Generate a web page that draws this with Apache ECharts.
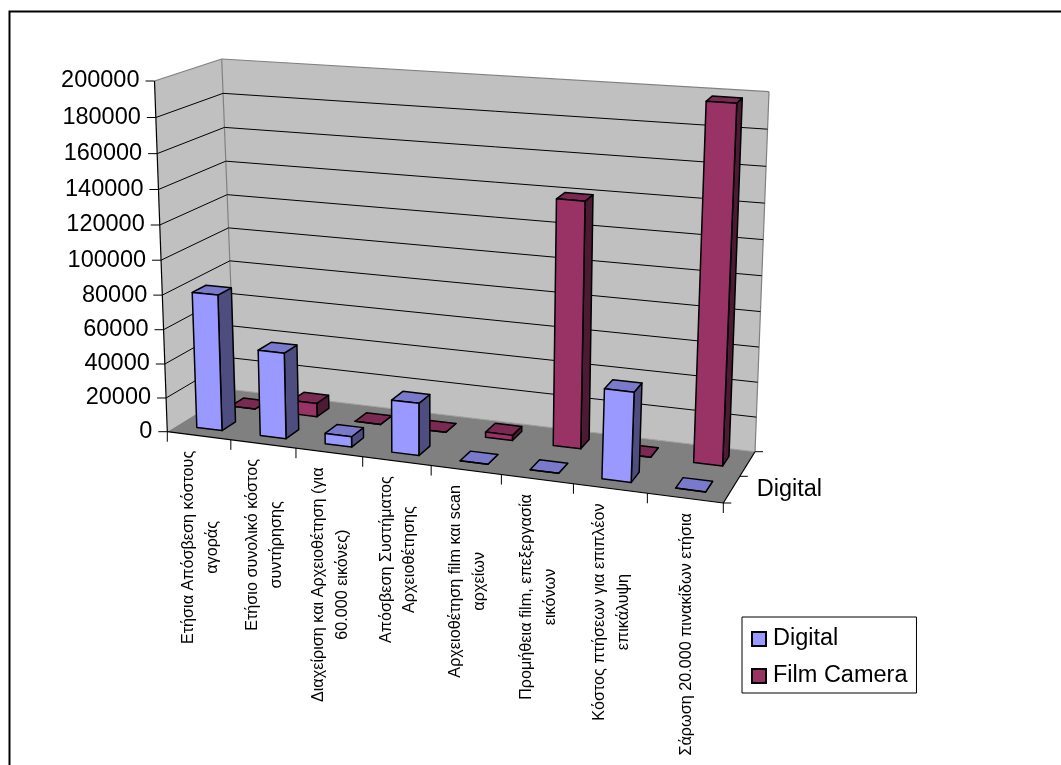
<!DOCTYPE html>
<html><head><meta charset="utf-8">
<style>html,body{margin:0;padding:0;background:#fff}#c{width:1061px;height:765px}</style>
<script src="https://cdn.jsdelivr.net/npm/echarts@6/dist/echarts.min.js"></script>
</head><body><div id="c"></div>
<script>
const categories = [
  'Ετήσια Απόσβεση κόστους\nαγοράς',
  'Ετήσιο συνολικό κόστος\nσυντήρησης',
  'Διαχείριση και Αρχειοθέτηση (για\n60.000 εικόνες)',
  'Απόσβεση Συστήματος\nΑρχειοθέτησης',
  'Αρχειοθέτηση film και scan\nαρχείων',
  'Προμήθεια film, επεξεργασία\nεικόνων',
  'Κόστος πτήσεων για επιπλέον\nεπικάλυψη',
  'Σάρωση 20.000 πινακίδων ετήσια'
];
const digital = [79500, 50000, 6000, 30000, 0, 0, 50000, 0];
const filmCamera = [0, 8000, 0, 0, 3000, 140000, 0, 198000];
const valueTicks = [0, 20000, 40000, 60000, 80000, 100000, 120000, 140000, 160000, 180000, 200000];
const seriesNames = ['Digital', 'Film Camera'];
const depthLabels = ['Digital'];

const FONT = '"Liberation Sans", Arial, sans-serif';
// Camera of the 3D box: where its corners land on the page.
const floorQuad = [[167.3,431.7],[723.3,503],[755,451.7],[235,390]]; // FL FR BR BL
const roofCorners = {FL:[154.5,81],BL:[221.7,59],BR:[769,91.7]};

const camera=(function(){
  const [p0,p1,p2,p3]=floorQuad;
  const dx1=p1[0]-p2[0], dx2=p3[0]-p2[0], sx=p0[0]-p1[0]+p2[0]-p3[0];
  const dy1=p1[1]-p2[1], dy2=p3[1]-p2[1], sy=p0[1]-p1[1]+p2[1]-p3[1];
  const den=dx1*dy2-dx2*dy1;
  const g=(sx*dy2-dx2*sy)/den, h=(dx1*sy-sx*dy1)/den;
  const F=[[p1[0]*(1+g)-p0[0],p3[0]*(1+h)-p0[0],p0[0]],[p1[1]*(1+g)-p0[1],p3[1]*(1+h)-p0[1],p0[1]]];
  const R0=roofCorners.FL,R1=roofCorners.BL,R2=roofCorners.BR;
  const m=(F[0][0]+F[0][1]+R0[0]-R2[0]*(1+g+h))/(R2[0]-R0[0]);
  const T=[0,1].map(k=>{
    const C=R0[k]*(1+m), B=R1[k]*(1+h+m)-C, A=R2[k]*(1+g+h+m)-C-B;
    return [A,B,C];
  });
  return {g,h,m,F,T};
})();
function proj(u,v,w){
  const {g,h,m,F,T}=camera, k=g*u+h*w+1+m*v;
  return [0,1].map(i=>{
    const n0=F[i][0]*u+F[i][1]*w+F[i][2], n1=T[i][0]*u+T[i][1]*w+T[i][2];
    return (n0+(n1-n0)*v)/k;
  });
}
// Turn a position on the flat ECharts grid into normalised box coordinates.
function norm(pt,cs){ return [(pt[0]-cs.x)/cs.width, (cs.y+cs.height-pt[1])/cs.height]; }

const poly=(points,fill,stroke,lw)=>({type:'polygon',shape:{points},
  style:{fill:fill||'none',stroke:stroke||'none',lineWidth:lw||0,lineJoin:'round'},silent:true});
const line=(a,b,stroke,lw)=>({type:'line',shape:{x1:a[0],y1:a[1],x2:b[0],y2:b[1]},
  style:{stroke,lineWidth:lw||1},silent:true});

const measureCtx=document.createElement('canvas').getContext('2d');

function frameItem(params,api){
  const cs=params.coordSys, kids=[];
  const WALL='#C0C0C0', FLOOR='#808080', EDGE='#808080';
  const P=proj;
  kids.push(poly([P(0,0,0),P(0,1,0),P(0,1,1),P(0,0,1)],WALL));
  kids.push(poly([P(0,0,1),P(0,1,1),P(1,1,1),P(1,0,1)],WALL));
  kids.push(poly([P(0,0,0),P(1,0,0),P(1,0,1),P(0,0,1)],FLOOR));
  kids.push(line(P(0,1,0),P(0,1,1),EDGE,1.2));
  kids.push(line(P(0,1,1),P(1,1,1),EDGE,1.2));
  kids.push(line(P(1,1,1),P(1,0,1),EDGE,1.2));
  kids.push(line(P(0,1,1),P(0,0,1),EDGE,1.2));
  kids.push(line(P(0,0,1),P(1,0,1),'#A0A0A0',1));
  valueTicks.forEach(t=>{
    const v=norm(api.coord([0,t]),cs)[1];
    if(t>0 && t<valueTicks[valueTicks.length-1]){
      kids.push(line(P(0,v,0),P(0,v,1),'#000',1));
      kids.push(line(P(0,v,1),P(1,v,1),'#000',1));
    }
    const a=P(0,v,0);
    kids.push(line([a[0]-9,a[1]],a,'#000',1));
    kids.push({type:'text',silent:true,style:{text:String(t),x:a[0]-15,y:a[1],align:'right',verticalAlign:'middle',
      font:'23.5px '+FONT,fill:'#000'}});
  });
  kids.push(line(P(0,0,0),P(0,1,0),'#000',1.2));
  kids.push(line(P(0,0,0),P(1,0,0),'#000',1.2));
  kids.push(line(P(1,0,0),P(1,0,1),'#000',1.2));
  const n=categories.length;
  for(let i=0;i<=n;i++){ const a=P(i/n,0,0); kids.push(line(a,[a[0],a[1]+10],'#000',1)); }
  measureCtx.font='16.2px '+FONT;
  categories.forEach((c,i)=>{
    const u=norm(api.coord([i,0]),cs)[0], a=P(u,0,0);
    const len=Math.max(...c.split('\n').map(s=>measureCtx.measureText(s).width));
    kids.push({type:'text',silent:true,x:a[0]+1.5,y:a[1]+15+len/2,rotation:Math.PI/2,
      style:{text:c,x:0,y:0,align:'center',verticalAlign:'middle',font:'16.2px '+FONT,fill:'#000',lineHeight:23.5}});
  });
  [0,0.5,1].forEach(w=>{const a=P(1,0,w); kids.push(line(a,[a[0]+8,a[1]],'#000',1));});
  depthLabels.forEach((d,i)=>{
    const a=P(1,0,(i+0.5)/seriesNames.length);
    kids.push({type:'text',silent:true,style:{text:d,x:a[0]+25,y:a[1],align:'left',verticalAlign:'middle',
      font:'23.5px '+FONT,fill:'#000'}});
  });
  return {type:'group',children:kids};
}

const BAR_FRAC=0.4; // gapWidth / gapDepth 150%
function barRenderer(rowIndex,front,top,side){
  return (params,api)=>{
    const cs=params.coordSys;
    const c=api.coord([api.value(0),api.value(1)]);
    const [uc,v]=norm(c,cs);
    const du=api.size([1,0])[0]/cs.width*BAR_FRAC/2;
    const rows=seriesNames.length, w0=(rowIndex+0.5-BAR_FRAC/2)/rows, w1=(rowIndex+0.5+BAR_FRAC/2)/rows;
    const u0=uc-du,u1=uc+du;
    const LW=1.5,K='#000';
    const kids=[
      poly([proj(u1,0,w0),proj(u1,0,w1),proj(u1,v,w1),proj(u1,v,w0)],side,K,LW),
      poly([proj(u0,v,w0),proj(u1,v,w0),proj(u1,v,w1),proj(u0,v,w1)],top,K,LW),
      poly([proj(u0,0,w0),proj(u1,0,w0),proj(u1,v,w0),proj(u0,v,w0)],front,K,LW)
    ];
    return {type:'group',children:kids};
  };
}
const idx=a=>a.map((v,i)=>[i,v]);

const chart=echarts.init(document.getElementById('c'),null,{renderer:'canvas'});
chart.setOption({
  animation:false,
  backgroundColor:'#fff',
  grid:{left:167,top:81,width:556,height:350,show:false},
  xAxis:{type:'category',data:categories,show:false,boundaryGap:true},
  yAxis:{type:'value',min:0,max:200000,interval:20000,show:false},
  legend:{
    data:seriesNames,orient:'vertical',left:742,top:617,
    backgroundColor:'#fff',borderColor:'#000',borderWidth:1,padding:[10,9,5,9],
    itemWidth:14,itemHeight:14,itemGap:13,icon:'rect',selectedMode:false,
    textStyle:{fontFamily:FONT,fontSize:23.5,color:'#000',padding:[0,0,0,2]}
  },
  graphic:[{type:'polyline',shape:{points:[[9.5,765],[9.5,11.5],[1061,11.5]]},
    style:{fill:'none',stroke:'#000',lineWidth:2},silent:true,z:0}],
  series:[
    {type:'custom',name:'_frame',data:[[0,0]],z:1,silent:true,clip:false,renderItem:frameItem,encode:{x:0,y:1}},
    {type:'custom',name:'Film Camera',data:idx(filmCamera),z:2,silent:true,clip:false,
      itemStyle:{color:'#993366',borderColor:'#000',borderWidth:1.5},
      renderItem:barRenderer(1,'#993366','#7A2952','#4D1A33'),encode:{x:0,y:1}},
    {type:'custom',name:'Digital',data:idx(digital),z:3,silent:true,clip:false,
      itemStyle:{color:'#9999FF',borderColor:'#000',borderWidth:1.5},
      renderItem:barRenderer(0,'#9999FF','#7A7ACC','#4D4D80'),encode:{x:0,y:1}}
  ]
});
</script></body></html>
